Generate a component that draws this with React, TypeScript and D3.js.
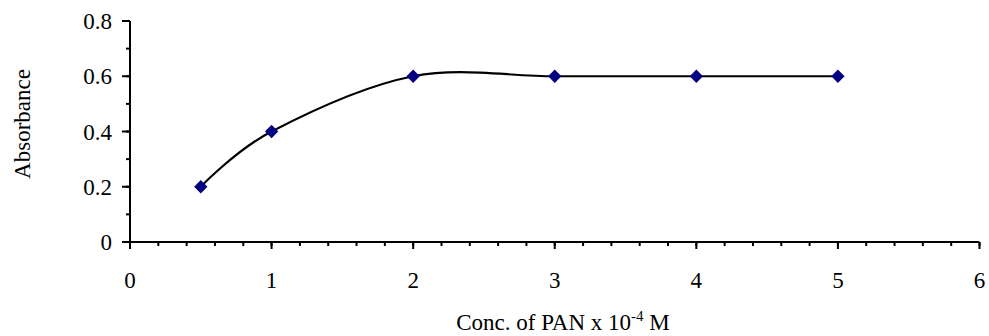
import React from "react";
import * as d3 from "d3";

const concentrations = [0.5, 1, 2, 3, 4, 5];
const absorbance = [0.2, 0.4, 0.6, 0.6, 0.6, 0.6];
const xTickValues = [0, 1, 2, 3, 4, 5, 6];
const yTickValues = [0, 0.2, 0.4, 0.6, 0.8];

const W = 989;
const H = 336;
const FONT = "'Liberation Serif', 'Times New Roman', serif";
const FS = 23;

export default function App() {
  const x = d3.scaleLinear().domain([0, 6]).range([130, 979.5]);
  const y = d3.scaleLinear().domain([0, 0.8]).range([242, 21]);

  const data = concentrations.map((c, i) => [c, absorbance[i]] as [number, number]);
  const line = d3
    .line<[number, number]>()
    .x((d) => x(d[0]))
    .y((d) => y(d[1]))
    .curve(d3.curveCatmullRom.alpha(0));

  const xMinor = d3.range(0, 6.0001, 0.2);
  const yMinor = d3.range(0, 0.80001, 0.1);

  return (
    <svg
      width={W}
      height={H}
      style={{ position: "absolute", left: 0, top: 0, background: "#fff" }}
      fontFamily={FONT}
    >
      <rect width={W} height={H} fill="#fff" />
      <line x1={x(0)} x2={x(0)} y1={y(0.8)} y2={y(0)} stroke="#000" strokeWidth={2} />
      <line x1={x(0)} x2={x(6)} y1={y(0)} y2={y(0)} stroke="#000" strokeWidth={2} />
      {yMinor.map((v, i) => (
        <line key={"ym" + i} x1={x(0) - 4} x2={x(0)} y1={y(v)} y2={y(v)} stroke="#000" strokeWidth={2} />
      ))}
      {yTickValues.map((v) => (
        <g key={"yt" + v}>
          <line x1={x(0) - 8} x2={x(0)} y1={y(v)} y2={y(v)} stroke="#000" strokeWidth={2} />
          <text x={112} y={y(v)} dy="0.35em" textAnchor="end" fontSize={FS} fill="#000">
            {v === 0 ? "0" : v.toFixed(1)}
          </text>
        </g>
      ))}
      {xMinor.map((v, i) => (
        <line key={"xm" + i} x1={x(v)} x2={x(v)} y1={y(0)} y2={y(0) + 4} stroke="#000" strokeWidth={2} />
      ))}
      {xTickValues.map((v) => (
        <g key={"xt" + v}>
          <line x1={x(v)} x2={x(v)} y1={y(0)} y2={y(0) + 7} stroke="#000" strokeWidth={2} />
          <text x={x(v)} y={288} textAnchor="middle" fontSize={FS} fill="#000">
            {String(v)}
          </text>
        </g>
      ))}
      <path d={line(data) || ""} fill="none" stroke="#000" strokeWidth={2.2} />
      {data.map((d, i) => (
        <rect
          key={"p" + i}
          x={-4.7}
          y={-4.7}
          width={9.4}
          height={9.4}
          fill="#000080"
          transform={`translate(${x(d[0])},${y(d[1])}) rotate(45)`}
        />
      ))}
      <text
        transform={`translate(30,124) rotate(-90)`}
        textAnchor="middle"
        fontSize={FS}
        fill="#000"
      >
        Absorbance
      </text>
      <text x={563} y={330} textAnchor="middle" fontSize={FS} fill="#000">
        Conc. of PAN x 10
        <tspan fontSize={15} dy={-9}>-4</tspan>
        <tspan dy={9}> M</tspan>
      </text>
    </svg>
  );
}
